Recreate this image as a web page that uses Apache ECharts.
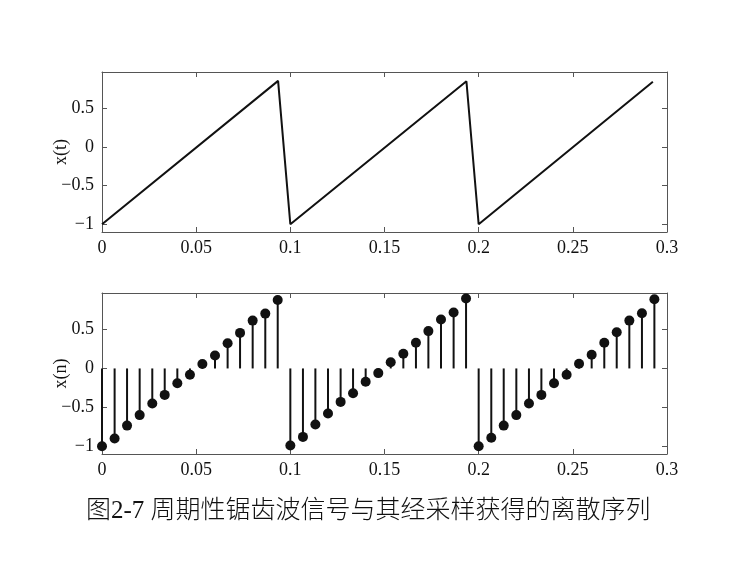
<!DOCTYPE html>
<html>
<head>
<meta charset="utf-8">
<script src="https://cdn.jsdelivr.net/npm/echarts@6/dist/echarts.min.js"></script>
<style>
html,body{margin:0;padding:0;background:#fff;}
#c{width:756px;height:565px;}
</style>
</head>
<body>
<div id="c"></div>
<script>
// Continuous sawtooth corner points (t, x(t))
const lineT = [0, 0.0935, 0.1, 0.1935, 0.2, 0.2925];
const lineV = [-1, 0.855, -1, 0.85, -1, 0.845];

// Sampled sequence
const sampleT = [
  0, 0.0067, 0.0133, 0.02, 0.0267, 0.0333, 0.04, 0.0467, 0.0533, 0.06, 0.0667, 0.0733, 0.08, 0.0867, 0.0933,
  0.1, 0.1067, 0.1133, 0.12, 0.1267, 0.1333, 0.14, 0.1467, 0.1533, 0.16, 0.1667, 0.1733, 0.18, 0.1867, 0.1933,
  0.2, 0.2067, 0.2133, 0.22, 0.2267, 0.2333, 0.24, 0.2467, 0.2533, 0.26, 0.2667, 0.2733, 0.28, 0.2867, 0.2933
];
const sampleV = [
  -1, -0.9, -0.735, -0.6, -0.45, -0.34, -0.19, -0.08, 0.056, 0.167, 0.325, 0.457, 0.615, 0.705, 0.88,
  -0.99, -0.88, -0.72, -0.58, -0.43, -0.32, -0.17, -0.06, 0.08, 0.19, 0.33, 0.48, 0.63, 0.72, 0.9,
  -1, -0.89, -0.735, -0.6, -0.45, -0.34, -0.19, -0.08, 0.06, 0.175, 0.33, 0.465, 0.615, 0.71, 0.89
];

const xTicks = [0, 0.05, 0.1, 0.15, 0.2, 0.25, 0.3];
const yTicks = [-1, -0.5, 0, 0.5];
const xRange = [0, 0.3];
const yRange = [-1.1, 0.97];
const yNames = ['x(t)', 'x(n)'];
const caption = '图2-7 周期性锯齿波信号与其经采样获得的离散序列';

const serif = '"Liberation Serif", "Times New Roman", serif';
const axisColor = '#555';

function fmtX(v){ return String(Math.round(v*100)/100); }
function fmtY(v){ const s = String(Math.round(v*100)/100); return v < 0 ? '\u2212' + s.slice(1) : s; }

const grids = [
  {left:102, right:89, top:72, height:160},
  {left:102, right:89, top:293, height:161}
];

const xAxes = [], yAxes = [];
grids.forEach((g, i) => {
  xAxes.push({
    type:'value', gridIndex:i, min:xRange[0], max:xRange[1], position:'bottom',
    splitLine:{show:false},
    axisLine:{show:true, onZero:false, lineStyle:{color:axisColor, width:1}},
    axisTick:{show:true, inside:true, length:5, customValues:xTicks, lineStyle:{color:axisColor}},
    axisLabel:{show:true, customValues:xTicks, formatter:fmtX, margin:7, color:'#111', fontFamily:serif, fontSize:18}
  });
  xAxes.push({
    type:'value', gridIndex:i, min:xRange[0], max:xRange[1], position:'top',
    splitLine:{show:false},
    axisLine:{show:true, onZero:false, lineStyle:{color:axisColor, width:1}},
    axisTick:{show:true, inside:true, length:5, customValues:xTicks, lineStyle:{color:axisColor}},
    axisLabel:{show:false}
  });
  yAxes.push({
    type:'value', gridIndex:i, min:yRange[0], max:yRange[1], position:'left',
    name:yNames[i], nameLocation:'middle', nameGap:32, nameRotate:90, nameMoveOverlap:false,
    nameTextStyle:{fontFamily:serif, fontSize:18, color:'#111'},
    splitLine:{show:false},
    axisLine:{show:true, onZero:false, lineStyle:{color:axisColor, width:1}},
    axisTick:{show:true, inside:true, length:5, customValues:yTicks, lineStyle:{color:axisColor}},
    axisLabel:{show:true, customValues:yTicks, formatter:fmtY, margin:8, color:'#111', fontFamily:serif, fontSize:18}
  });
  yAxes.push({
    type:'value', gridIndex:i, min:yRange[0], max:yRange[1], position:'right',
    splitLine:{show:false},
    axisLine:{show:true, onZero:false, lineStyle:{color:axisColor, width:1}},
    axisTick:{show:true, inside:true, length:5, customValues:yTicks, lineStyle:{color:axisColor}},
    axisLabel:{show:false}
  });
});

const lineData = lineT.map((t, i) => [t, lineV[i]]);
const sampleData = sampleT.map((t, i) => [t, sampleV[i]]);

const option = {
  backgroundColor:'#fff',
  animation:false,
  grid: grids,
  xAxis: xAxes,
  yAxis: yAxes,
  series: [
    {
      type:'line', xAxisIndex:0, yAxisIndex:0, data:lineData,
      showSymbol:false, symbol:'none',
      lineStyle:{color:'#111', width:2}
    },
    {
      type:'custom', xAxisIndex:2, yAxisIndex:2, data:sampleData,
      encode:{x:0, y:1},
      renderItem:function(params, api){
        const p0 = api.coord([api.value(0), 0]);
        const p1 = api.coord([api.value(0), api.value(1)]);
        return {type:'line', shape:{x1:p0[0], y1:p0[1], x2:p1[0], y2:p1[1]},
                style:{stroke:'#111', lineWidth:2}};
      }
    },
    {
      type:'scatter', xAxisIndex:2, yAxisIndex:2, data:sampleData,
      symbol:'circle', symbolSize:10,
      itemStyle:{color:'#111', opacity:1}
    }
  ],
  graphic: [
    {
      type:'text', left:86, top:499,
      style:{text:caption, fontFamily:'"Liberation Serif", "Noto Sans CJK SC", serif', fontWeight:300, fontSize:25, fill:'#111'}
    }
  ]
};

const chart = echarts.init(document.getElementById('c'), null, {renderer:'canvas'});
chart.setOption(option);
</script>
</body>
</html>
